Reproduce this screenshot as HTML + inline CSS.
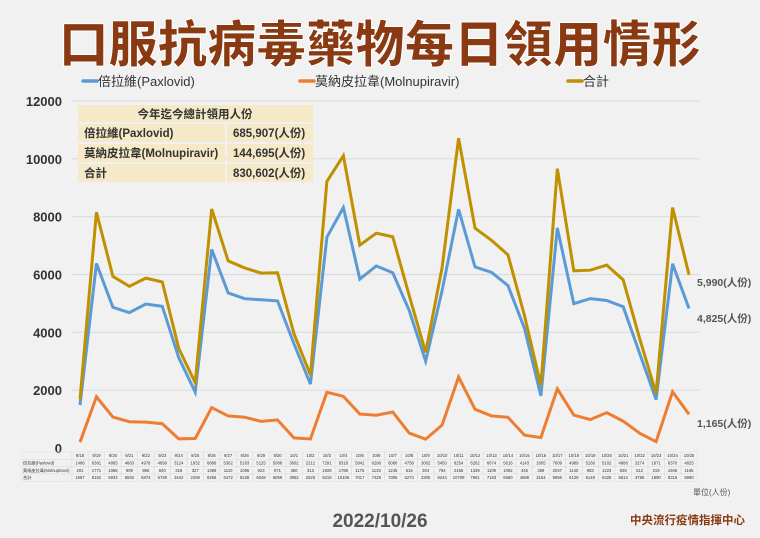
<!DOCTYPE html>
<html><head><meta charset="utf-8"><style>
body{margin:0;background:#f2f1f1;width:760px;height:538px;overflow:hidden;font-family:"Liberation Sans","Noto Sans CJK TC",sans-serif;}
</style></head><body>
<svg id="s" width="760" height="538" xmlns="http://www.w3.org/2000/svg" style="position:absolute;left:0;top:0">
<text x="380" y="62" text-anchor="middle" font-size="50" font-weight="900" fill="#8a3a12" stroke="#fff" stroke-width="1" font-family="Noto Sans CJK TC, sans-serif" textLength="642" lengthAdjust="spacingAndGlyphs">口服抗病毒藥物每日領用情形</text>
<g font-size="13" fill="#333" font-family="Liberation Sans, Noto Sans CJK TC, sans-serif">
<line x1="83" y1="81" x2="97" y2="81" stroke="#5b9bd5" stroke-width="3.5" stroke-linecap="round"/><text x="98" y="86">倍拉維(Paxlovid)</text>
<line x1="300" y1="81" x2="314" y2="81" stroke="#ed7d31" stroke-width="3.5" stroke-linecap="round"/><text x="315" y="86">莫納皮拉韋(Molnupiravir)</text>
<line x1="568" y1="81" x2="582" y2="81" stroke="#bf9000" stroke-width="3.5" stroke-linecap="round"/><text x="583" y="86">合計</text>
</g>
<g id="grid"></g>
<g font-size="13" font-weight="bold" font-family="Liberation Sans, Noto Sans CJK TC, sans-serif">
<rect x="78" y="105" width="235" height="17" fill="#f5e9c8"/>
<rect x="78" y="124" width="147" height="18" fill="#f5e9c8"/><rect x="227" y="124" width="86" height="18" fill="#f5e9c8"/>
<rect x="78" y="144" width="147" height="18" fill="#f5e9c8"/><rect x="227" y="144" width="86" height="18" fill="#f5e9c8"/>
<rect x="78" y="164" width="147" height="18" fill="#f5e9c8"/><rect x="227" y="164" width="86" height="18" fill="#f5e9c8"/>
<g fill="#333" font-size="11.5">
<text x="195" y="118" text-anchor="middle">今年迄今總計領用人份</text>
<text x="84" y="137">倍拉維(Paxlovid)</text><text x="233" y="137">685,907(人份)</text>
<text x="84" y="157">莫納皮拉韋(Molnupiravir)</text><text x="233" y="157">144,695(人份)</text>
<text x="84" y="177">合計</text><text x="233" y="177">830,602(人份)</text>
</g></g>
<g id="lines"></g>
<g font-size="10.5" fill="#555" font-weight="bold" font-family="Liberation Sans, Noto Sans CJK TC, sans-serif">
<text x="697" y="286">5,990(人份)</text><text x="697" y="322">4,825(人份)</text><text x="697" y="427">1,165(人份)</text>
</g>
<g id="tbl" font-size="4.2" fill="#333"></g>
<text x="693" y="495" font-size="8" fill="#555" font-family="Liberation Sans, Noto Sans CJK TC, sans-serif">單位(人份)</text>
<text x="380" y="527" text-anchor="middle" font-size="19" font-weight="bold" fill="#555">2022/10/26</text>
<text x="745" y="524" text-anchor="end" font-size="11.5" font-weight="bold" fill="#8a3a12" font-family="Liberation Sans, Noto Sans CJK TC, sans-serif">中央流行疫情指揮中心</text>
</svg>
<script>
var P=[1486,6381,4865,4683,4978,4899,3124,1932,6868,5362,5163,5125,5088,3602,2212,7291,8318,5842,6296,6060,4758,3002,5450,8254,6262,6074,5618,4143,1805,7609,4989,5166,5102,4886,3274,1671,6370,4825];
var M=[201,1771,1068,909,896,840,318,327,1398,1110,1065,923,971,350,313,1928,1788,1175,1133,1245,516,304,794,2455,1339,1109,1062,445,359,2047,1140,983,1223,928,512,219,1945,1165];
var T=P.map(function(v,i){return v+M[i]});
var D=[];for(var d=18;d<=30;d++)D.push("9/"+d);for(d=1;d<=25;d++)D.push("10/"+d);
var ns="http://www.w3.org/2000/svg";
function el(p,t,a,tx){var e=document.createElementNS(ns,t);for(var k in a)e.setAttribute(k,a[k]);if(tx!=null)e.textContent=tx;document.getElementById(p).appendChild(e);}
function Y(v){return 448-v*347/12000;}
function X(i){return 80+i*16.46;}
for(var g=0;g<=12000;g+=2000){if(g>0)el("grid","line",{x1:72,x2:700,y1:Y(g),y2:Y(g),stroke:"#dcdcdc","stroke-width":1.2});
el("grid","text",{x:62,y:Y(g)+5,"text-anchor":"end","font-size":13,"font-weight":"bold",fill:"#333"},g);}
[[P,"#5b9bd5"],[M,"#ed7d31"],[T,"#bf9000"]].forEach(function(s){el("lines","polyline",{points:s[0].map(function(v,i){return X(i)+","+Y(v)}).join(" "),fill:"none",stroke:s[1],"stroke-width":3,"stroke-linejoin":"miter"});});
var rows=[D,P,M,T],labels=["","倍拉維(Paxlovid)","莫納皮拉韋(Molnupiravir)","合計"];
for(var r=0;r<4;r++){var y=452+r*7.3;
el("tbl","rect",{x:22,y:y,width:50,height:7.3,fill:"none",stroke:"#ddd","stroke-width":0.5});
el("tbl","text",{x:23,y:y+5.2},labels[r]);
for(var i=0;i<38;i++){el("tbl","rect",{x:X(i)-8.2,y:y,width:16.46,height:7.3,fill:"none",stroke:"#ddd","stroke-width":0.5});
el("tbl","text",{x:X(i),y:y+5.2,"text-anchor":"middle"},rows[r][i]);}}
</script>
</body></html>
